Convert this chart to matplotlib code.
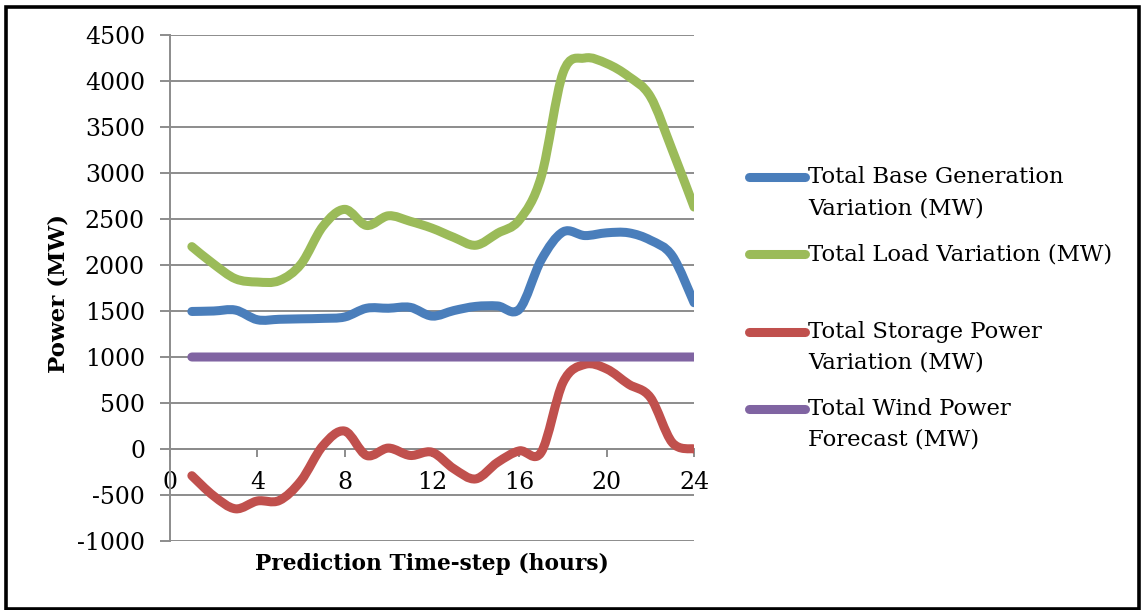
import matplotlib
matplotlib.use("Agg")
import matplotlib.pyplot as plt
from matplotlib.path import Path
from matplotlib.patches import PathPatch, Rectangle
from matplotlib.lines import Line2D

plt.rcParams["font.family"] = "DejaVu Serif"
plt.rcParams["axes.unicode_minus"] = False

hours = list(range(1, 25))
base_gen = [1495, 1500, 1510, 1405, 1410, 1415, 1420, 1435, 1530, 1530, 1540, 1445,
            1505, 1550, 1555, 1520, 2055, 2360, 2320, 2350, 2350, 2270, 2100, 1590]
load = [2200, 2010, 1850, 1815, 1830, 2010, 2420, 2605, 2430, 2535, 2475, 2400,
        2300, 2215, 2345, 2490, 2960, 4090, 4250, 4190, 4050, 3830, 3250, 2630]
storage = [-290, -510, -650, -565, -560, -345, 35, 195, -70, 10, -70, -35,
           -215, -325, -145, -20, -35, 725, 920, 870, 705, 560, 70, 0]
wind = [1000] * 24

labels = ["Total Base Generation\nVariation (MW)",
          "Total Load Variation (MW)",
          "Total Storage Power\nVariation (MW)",
          "Total Wind Power\nForecast (MW)"]
colors = ["#4a7ebb", "#9bbb59", "#c0504d", "#8064a2"]
series = [base_gen, load, storage, wind]


def smooth_path(x, y):
    # bezier segments through every point, like a spreadsheet "smoothed line"
    pts = list(zip(x, y))
    n = len(pts)
    verts = [pts[0]]
    codes = [Path.MOVETO]
    for i in range(n - 1):
        p0 = pts[max(i - 1, 0)]
        p1 = pts[i]
        p2 = pts[i + 1]
        p3 = pts[min(i + 2, n - 1)]
        c1 = (p1[0] + (p2[0] - p0[0]) / 6, p1[1] + (p2[1] - p0[1]) / 6)
        c2 = (p2[0] - (p3[0] - p1[0]) / 6, p2[1] - (p3[1] - p1[1]) / 6)
        verts += [c1, c2, p2]
        codes += [Path.CURVE4] * 3
    return Path(verts, codes)


fig = plt.figure(figsize=(11.41, 6.10), dpi=100)
ax = fig.add_axes([0.149, 0.1131, 0.4593, 0.8295])

grid_col = "#8c8c8c"
for vals, col in zip(series, colors):
    patch = PathPatch(smooth_path(hours, vals), fill=False, edgecolor=col, lw=6.5,
                      capstyle="round", joinstyle="round", zorder=3)
    ax.add_patch(patch)

ax.set_xlim(0, 24)
ax.set_ylim(-1000, 4500)
ax.set_xticks(range(0, 25, 4))
ax.set_yticks(range(-1000, 4501, 500))
ax.yaxis.grid(True, color=grid_col, lw=1.4)
ax.set_axisbelow(True)

for side in ["top", "right"]:
    ax.spines[side].set_visible(False)
ax.spines["bottom"].set_position(("data", 0))
ax.spines["bottom"].set_color(grid_col)
ax.spines["left"].set_color(grid_col)
ax.spines["bottom"].set_linewidth(1.4)
ax.spines["left"].set_linewidth(1.4)

ax.tick_params(axis="y", length=7, width=1.4, color=grid_col, pad=11, labelsize=17)
ax.tick_params(axis="x", length=6, width=1.4, color=grid_col, pad=10, labelsize=17)

ax.set_xlabel("Prediction Time-step (hours)", fontsize=15.7, fontweight="bold")
ax.xaxis.set_label_coords(0.5, -0.045)
ax.xaxis.label.set_va("center")
ax.set_ylabel("Power (MW)", fontsize=16.5, fontweight="bold")
ax.yaxis.set_label_coords(-0.2137, 0.49)
ax.yaxis.label.set_va("center")

# legend drawn by hand so each entry sits on its own first line
W, H = 1141, 610
for k, (lab, col) in enumerate(zip(labels, colors)):
    y0 = 177 + 77.3 * k
    fig.add_artist(Line2D([749 / W, 805 / W], [1 - y0 / H, 1 - y0 / H], color=col,
                          lw=6.5, solid_capstyle="round"))
    for j, line in enumerate(lab.split("\n")):
        fig.text(808 / W, 1 - (y0 + 31 * j) / H, line, fontsize=16.4,
                 ha="left", va="center")

fig.add_artist(Rectangle((5.5 / W, 1.5 / H), 1133.5 / W, 602 / H, fill=False,
                         edgecolor="black", lw=2.6, transform=fig.transFigure))

fig.savefig("out.png", dpi=100)
